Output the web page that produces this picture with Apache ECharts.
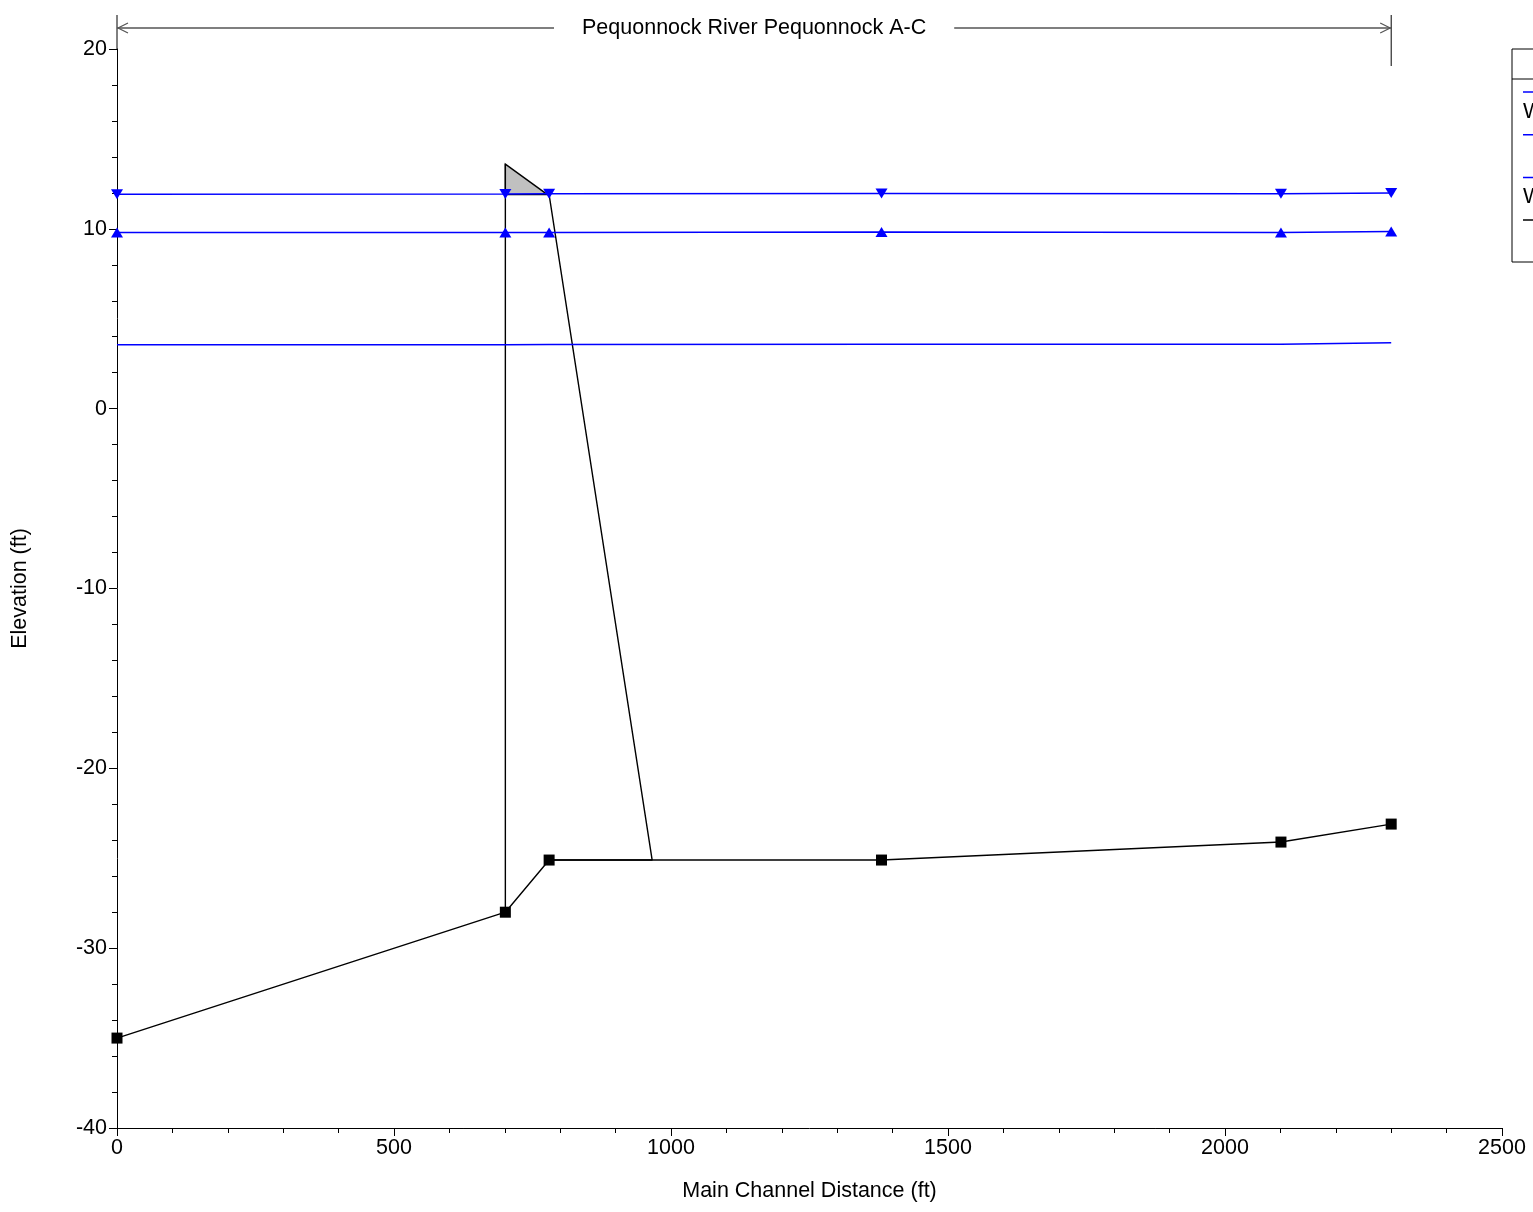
<!DOCTYPE html>
<html>
<head>
<meta charset="utf-8">
<script src="https://cdn.jsdelivr.net/npm/echarts@6/dist/echarts.min.js"></script>
<style>
  html, body { margin: 0; padding: 0; background: #ffffff; }
  #chart { width: 1533px; height: 1212px; }
</style>
</head>
<body>
<div id="chart"></div>
<script>
// Profile stations along the main channel (ft)
const stations = [0, 701, 780, 1380, 2101, 2300];
// Water surface profiles (ft)
const wsUpper = [11.93, 11.94, 11.95, 11.96, 11.95, 11.99];
const wsMiddle = [9.8, 9.8, 9.8, 9.82, 9.8, 9.85];
const wsLower = [3.55, 3.56, 3.57, 3.58, 3.58, 3.67];
// Channel invert (ft)
const ground = [-35, -28, -25.1, -25.1, -24.1, -23.1];

// Bridge: pier face and deck wedge
const pierX = [701, 701];
const pierY = [-28, 13.6];
const deckX = [701, 777, 701];
const deckY = [13.6, 11.9, 11.9];
// Embankment slope on the downstream side
const slopeX = [780, 966, 780];
const slopeY = [11.9, -25.1, -25.1];

// Reach annotation
const reachName = 'Pequonnock River Pequonnock A-C';
const reachStart = 0;
const reachEnd = 2300;

// Axis ticks
const xTicks = { min: 0, max: 2500, interval: 500 };
const yTicks = { min: -40, max: 20, interval: 10 };

// Legend rows (line colour, label)
const legendRows = [
  { color: '#0000ff', label: 'WS 100-yr' },
  { color: '#0000ff', label: '' },
  { color: '#0000ff', label: 'WS MHW' },
  { color: '#000000', label: '' }
];

const FONT = 'Arial, "Liberation Sans", Helvetica, sans-serif';
const FS = 21.5;

const pairs = (xs, ys) => xs.map((x, i) => [x, ys[i]]);
const plain = v => String(v);

const chart = echarts.init(document.getElementById('chart'), null, { renderer: 'canvas' });

const axisCommon = {
  axisLine: { show: true, onZero: false, lineStyle: { color: '#000', width: 1 } },
  axisTick: { show: true, length: 8, lineStyle: { color: '#000', width: 1 } },
  minorTick: { show: true, splitNumber: 5, length: 5, lineStyle: { color: '#000', width: 1 } },
  splitLine: { show: false },
  nameTextStyle: { color: '#000', fontFamily: FONT, fontSize: FS }
};

const option = {
  animation: false,
  backgroundColor: '#ffffff',
  grid: { left: 117, right: 31, top: 49, bottom: 84, containLabel: false },
  xAxis: Object.assign({}, axisCommon, {
    type: 'value',
    min: xTicks.min, max: xTicks.max, interval: xTicks.interval,
    name: 'Main Channel Distance (ft)',
    nameLocation: 'middle', nameGap: 52,
    axisLabel: { color: '#000', fontFamily: FONT, fontSize: FS, margin: 9, formatter: plain }
  }),
  yAxis: Object.assign({}, axisCommon, {
    type: 'value',
    min: yTicks.min, max: yTicks.max, interval: yTicks.interval,
    name: 'Elevation (ft)',
    nameLocation: 'middle', nameGap: 86, nameRotate: 90,
    axisLabel: { color: '#000', fontFamily: FONT, fontSize: FS, margin: 10, formatter: plain }
  }),
  series: [
    {
      name: 'Pier', type: 'line', data: pairs(pierX, pierY),
      symbol: 'none', lineStyle: { color: '#000', width: 1.4 }, z: 2
    },
    {
      name: 'Slope', type: 'line', data: pairs(slopeX, slopeY),
      symbol: 'none', lineStyle: { color: '#000', width: 1.4 }, z: 2
    },
    {
      name: 'Deck', type: 'custom', data: [0], z: 3,
      renderItem: function (params, api) {
        const pts = deckX.map((x, i) => api.coord([x, deckY[i]]));
        return {
          type: 'polygon',
          shape: { points: pts },
          style: { fill: '#c0c0c0', stroke: '#000', lineWidth: 1.4 }
        };
      }
    },
    {
      name: 'Ground', type: 'line', data: pairs(stations, ground),
      symbol: 'rect', symbolSize: 11,
      itemStyle: { color: '#000' }, lineStyle: { color: '#000', width: 1.4 }, z: 4
    },
    {
      name: 'WS Lower', type: 'line', data: pairs(stations, wsLower),
      symbol: 'none', lineStyle: { color: '#0000ff', width: 1.5 }, z: 5
    },
    {
      name: 'WS Middle', type: 'line', data: pairs(stations, wsMiddle),
      symbol: 'triangle', symbolSize: [12, 10],
      itemStyle: { color: '#0000ff' }, lineStyle: { color: '#0000ff', width: 1.5 }, z: 5
    },
    {
      name: 'WS Upper', type: 'line', data: pairs(stations, wsUpper),
      symbol: 'triangle', symbolSize: [12, 10], symbolRotate: 180,
      itemStyle: { color: '#0000ff' }, lineStyle: { color: '#0000ff', width: 1.5 }, z: 5
    }
  ]
};

chart.setOption(option);

// Reach extent bar across the top with its name
const xa = chart.convertToPixel({ xAxisIndex: 0 }, reachStart);
const xb = chart.convertToPixel({ xAxisIndex: 0 }, reachEnd);
const yTop = chart.convertToPixel({ yAxisIndex: 0 }, yTicks.max);
const barY = 28;
const ctx = document.createElement('canvas').getContext('2d');
ctx.font = FS + 'px ' + FONT;
const tw = ctx.measureText(reachName).width;
const cx = (xa + xb) / 2;
const gap = 28;
const grey = '#555555';

const legX = 1512, legY = 49;
const legendEls = [
  { type: 'rect', shape: { x: legX, y: legY, width: 140, height: 213 },
    style: { fill: '#fff', stroke: '#000', lineWidth: 1 }, z: 10 },
  { type: 'line', shape: { x1: legX, y1: legY + 30, x2: legX + 140, y2: legY + 30 },
    style: { stroke: '#000', lineWidth: 1 }, z: 11 }
];
legendRows.forEach((row, i) => {
  const ly = 92 + i * 42.7;
  legendEls.push({ type: 'line', shape: { x1: legX + 11, y1: ly, x2: legX + 60, y2: ly },
    style: { stroke: row.color, lineWidth: 1.5 }, z: 11 });
  if (row.label) {
    legendEls.push({ type: 'text', x: legX + 11, y: ly + 20,
      style: { text: row.label, font: FS + 'px ' + FONT, fill: '#000',
               verticalAlign: 'middle', align: 'left' }, z: 11 });
  }
});

chart.setOption({
  graphic: [
    { type: 'line', shape: { x1: xa, y1: 15, x2: xa, y2: yTop }, style: { stroke: '#000', lineWidth: 1 } },
    { type: 'line', shape: { x1: xb, y1: 15, x2: xb, y2: 66 }, style: { stroke: '#000', lineWidth: 1 } },
    { type: 'line', shape: { x1: xa, y1: barY, x2: cx - tw / 2 - gap, y2: barY }, style: { stroke: grey, lineWidth: 1.5 } },
    { type: 'line', shape: { x1: cx + tw / 2 + gap, y1: barY, x2: xb, y2: barY }, style: { stroke: grey, lineWidth: 1.5 } },
    { type: 'polyline', shape: { points: [[xa + 11, barY - 5], [xa + 1, barY], [xa + 11, barY + 5]] },
      style: { stroke: grey, lineWidth: 1.2, fill: null } },
    { type: 'polyline', shape: { points: [[xb - 11, barY - 5], [xb - 1, barY], [xb - 11, barY + 5]] },
      style: { stroke: grey, lineWidth: 1.2, fill: null } },
    { type: 'text', x: cx, y: barY,
      style: { text: reachName, font: FS + 'px ' + FONT, fill: '#000', align: 'center', verticalAlign: 'middle' } }
  ].concat(legendEls)
});
</script>
</body>
</html>
